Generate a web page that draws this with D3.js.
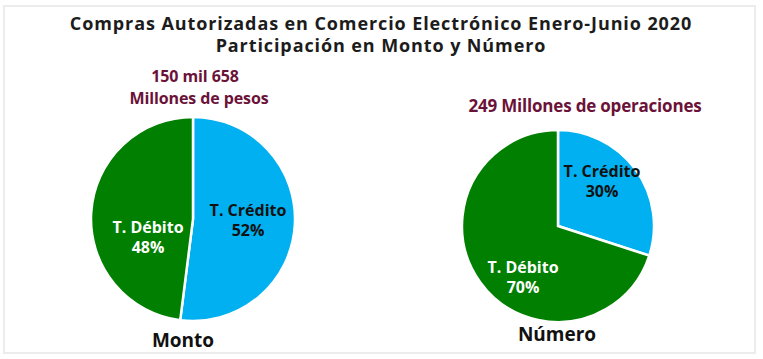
<!DOCTYPE html>
<html>
<head>
<meta charset="utf-8">
<script src="https://cdn.jsdelivr.net/npm/d3@7"></script>
<style>
  body { margin: 0; background: #fff; }
  text { font-family: "Open Sans", sans-serif; font-weight: bold; }
</style>
</head>
<body>
<script>
// datos
var categorias = ["T. Crédito", "T. Débito"];
var monto = [52, 48];
var numero = [30, 70];
var colores = ["#00B0F0", "#007F00"];
var colorTexto = ["#111", "#fff"];

var width = 763, height = 359;

var svg = d3.select("body").append("svg")
    .attr("width", width).attr("height", height);

// marco
svg.append("rect")
    .attr("x", 4).attr("y", 6).attr("width", 751).attr("height", 347)
    .attr("fill", "none").attr("stroke", "#ececec").attr("stroke-width", 2);

var titulo = svg.append("text")
    .attr("text-anchor", "middle").attr("fill", "#1c1c1c")
    .style("font-size", "18px")
    .style("letter-spacing", "0.9px");
titulo.append("tspan").attr("x", 381).attr("y", 30)
    .text("Compras Autorizadas en Comercio Electrónico Enero-Junio 2020");
titulo.append("tspan").attr("x", 381).attr("y", 52)
    .text("Participación en Monto y Número");

var pie = d3.pie().sort(null).value(function(d){ return d; });

function dibujarPie(valores, cx, cy, r, etiquetas, nombre, nombreX, nombreY) {
  var g = svg.append("g").attr("transform", "translate(" + cx + "," + cy + ")");
  var arc = d3.arc().innerRadius(0).outerRadius(r);
  var arcos = pie(valores);

  g.selectAll("path")
      .data(arcos)
      .enter().append("path")
      .attr("d", arc)
      .attr("fill", function(d, i){ return colores[i]; })
      .attr("stroke", "#fff")
      .attr("stroke-width", 2.5);

  arcos.forEach(function(d, i){
    var pos = etiquetas[i];
    var t = g.append("text")
        .attr("text-anchor", "middle")
        .attr("fill", colorTexto[i])
        .style("font-size", "16px");
    t.append("tspan").attr("x", pos[0]).attr("y", pos[1]).text(categorias[i]);
    t.append("tspan").attr("x", pos[0]).attr("y", pos[1] + 20).text(valores[i] + "%");
  });

  svg.append("text")
      .attr("x", nombreX).attr("y", nombreY)
      .attr("text-anchor", "middle")
      .attr("fill", "#111")
      .style("font-size", "19px")
      .text(nombre);
}

dibujarPie(monto, 193, 219, 102, [[55, -3], [-45, 14]], "Monto", 183, 347);
dibujarPie(numero, 558, 226, 96, [[44, -49], [-35, 47]], "Número", 557, 341);

// subtitulos
var sub = svg.append("text")
    .attr("text-anchor", "middle").attr("fill", "#6B1238")
    .style("font-size", "16px").style("letter-spacing", "-0.1px");
sub.append("tspan").attr("x", 195).attr("y", 82).text("150 mil 658");
sub.append("tspan").attr("x", 199).attr("y", 104).text("Millones de pesos");

svg.append("text")
    .attr("x", 585).attr("y", 112)
    .attr("text-anchor", "middle").attr("fill", "#6B1238")
    .style("font-size", "17px").style("letter-spacing", "-0.2px")
    .text("249  Millones de operaciones");
</script>
</body>
</html>
